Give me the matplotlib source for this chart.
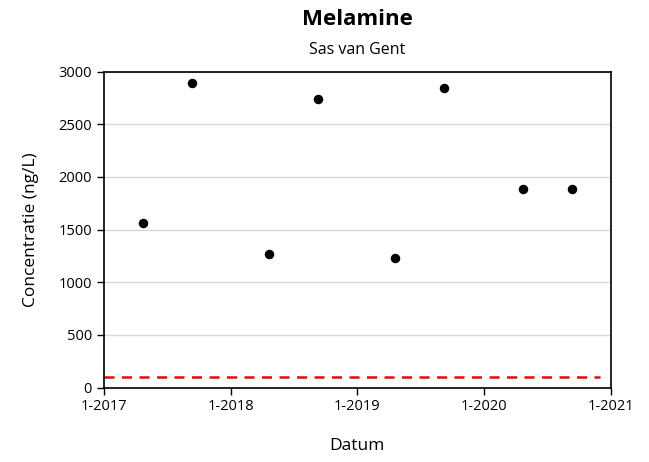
import numpy as np
import pandas as pd
import matplotlib
matplotlib.use('Agg')
import matplotlib.pyplot as plt

plt.rcParams['font.family'] = ['Open Sans', 'DejaVu Sans']

# Meetwaarden melamine, Sas van Gent
dates = pd.to_datetime(['2017-04-24', '2017-09-11', '2018-04-21', '2018-09-11',
                        '2019-04-21', '2019-09-09', '2020-04-23', '2020-09-12'])
conc = [1567, 2891, 1270, 2739, 1235, 2849, 1890, 1887]

# norm / streefwaarde
norm_dates = pd.to_datetime(['2017-01-01', '2020-12-01'])
norm_value = [100, 100]

ticks = pd.to_datetime(['2017-01-01', '2018-01-01', '2019-01-01', '2020-01-01', '2021-01-01'])
tick_labels = ['1-2017', '1-2018', '1-2019', '1-2020', '1-2021']

fig = plt.figure(figsize=(6.49, 4.62), dpi=100)
ax = fig.add_axes([0.160, 0.161, 0.7815, 0.684])

ax.scatter(dates, conc, s=34, color='black', zorder=3)
ax.plot(norm_dates, norm_value, color='#ff0000', linestyle=(0, (4, 3)), linewidth=1.8, zorder=2)

ax.set_xlim(ticks[0], ticks[-1])
ax.set_ylim(0, 3000)
ax.set_xticks(ticks)
ax.set_xticklabels(tick_labels)
ax.set_yticks(np.arange(0, 3001, 500))
ax.yaxis.grid(True, color='#d9d9d9', linewidth=1)
ax.set_axisbelow(True)
ax.tick_params(labelsize=10.5, length=5, width=1, color='black')

for s in ax.spines.values():
    s.set_linewidth(1.2)
    s.set_color('black')

ax.set_xlabel('Datum', fontsize=12.5, labelpad=17)
ax.set_ylabel('Concentratie (ng/L)', fontsize=12.5, labelpad=14)

fig.text(0.551, 0.958, 'Melamine', ha='center', va='center', fontsize=16, fontweight='bold')
fig.text(0.551, 0.892, 'Sas van Gent', ha='center', va='center', fontsize=11.5)

fig.savefig('out.png', dpi=100)
